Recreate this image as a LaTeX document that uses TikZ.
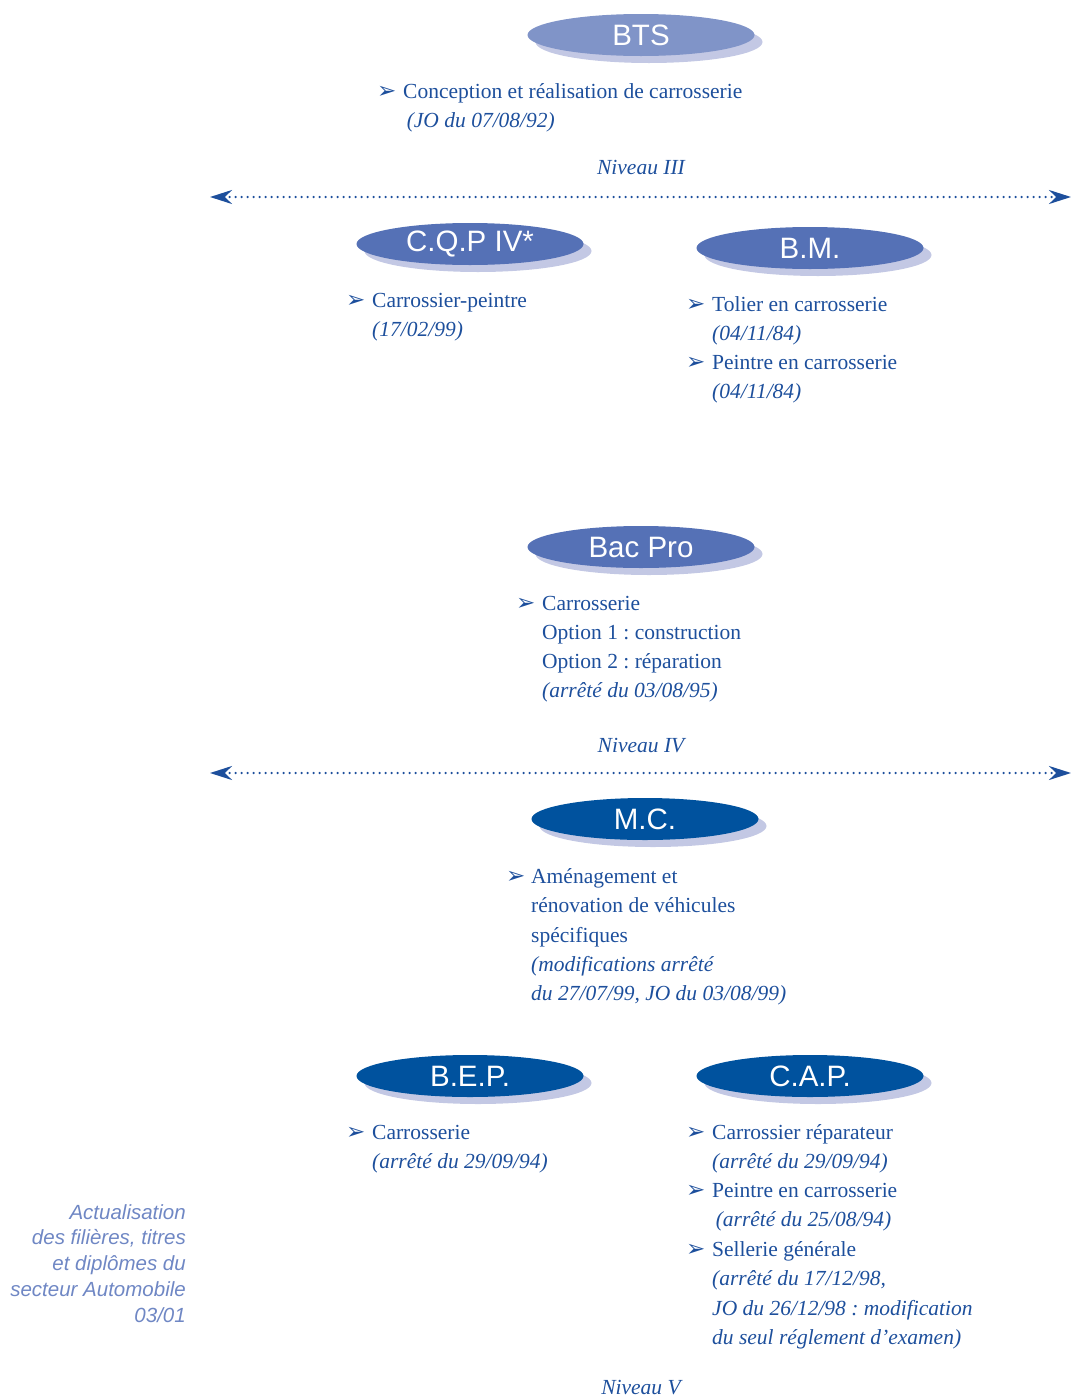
\documentclass[tikz,border=0pt]{standalone}
\usepackage{fontspec}
\setmainfont{Liberation Serif}
\setsansfont{Liberation Sans}
\newfontfamily\symfont{DejaVu Sans}
\usetikzlibrary{shapes.geometric,shadows,arrows.meta}
\definecolor{textblue}{HTML}{1D4F9C}
\definecolor{paleblue}{HTML}{8094C8}
\definecolor{midblue}{HTML}{5571B6}
\definecolor{darkblue}{HTML}{00529E}
\definecolor{shadowblue}{HTML}{C3C8E4}
\definecolor{noteblue}{HTML}{6F87C4}
\frenchspacing
\begin{document}
\begin{tikzpicture}[x=1pt,y=-1pt,
    diplome/.style={ellipse,minimum width=227pt,minimum height=42pt,inner sep=0pt,text=white,
      font=\sffamily\fontsize{29.5}{29.5}\selectfont,
      drop shadow={shadow xshift=8pt,shadow yshift=-7pt,fill=shadowblue,opacity=1}},
    item/.style={anchor=north west,yshift=14.44pt,inner sep=0pt,align=left,text=textblue,
      font=\fontsize{21.5}{29.2}\selectfont,execute at begin node=\strut},
    puce/.style={anchor=base west,inner sep=0pt,text=textblue,font=\symfont\fontsize{23}{23}\selectfont},
    niveau/.style={anchor=base,inner sep=0pt,text=textblue,font=\itshape\fontsize{21.5}{29.2}\selectfont},
    palier/.style={textblue,line width=2.5pt,line cap=round,dash pattern=on 0pt off 6pt,
      {Stealth[length=22pt,width=14pt]}-{Stealth[length=22pt,width=14pt]}}]
    \useasboundingbox (0,0) rectangle (1072,1398);

    \node[diplome,fill=paleblue] (bts) at (641,35) {BTS};
    \node[puce] (p1) at (377,98) {➢};
    \node[item] (t1) at (403,98) {Conception et réalisation de carrosserie\\ \textit{\,(JO du 07/08/92)}};
    \node[niveau] (n3) at (641,174) {Niveau III};
    \coordinate (g3) at (210,197);
    \coordinate (d3) at (1071,197);
    \draw[palier] (g3) -- (d3);

    \node[diplome,fill=midblue] (cqp) at (470,244) {C.Q.P IV*};
    \node[puce] (p2) at (346,307) {➢};
    \node[item] (t2) at (372,307) {Carrossier-peintre\\ \textit{(17/02/99)}};
    \node[diplome,fill=midblue] (bm) at (810,248) {B.M.};
    \node[puce] (p3) at (686,311) {➢};
    \node[item] (t3) at (712,311) {Tolier en carrosserie\\ \textit{(04/11/84)}};
    \node[puce] (p4) at (686,369) {➢};
    \node[item] (t4) at (712,369) {Peintre en carrosserie\\ \textit{(04/11/84)}};

    \node[diplome,fill=midblue] (bac) at (641,547) {Bac Pro};
    \node[puce] (p5) at (516,610) {➢};
    \node[item] (t5) at (542,610) {Carrosserie\\ Option 1 : construction\\ Option 2 : réparation\\ \textit{(arrêté du 03/08/95)}};
    \node[niveau] (n4) at (641,752) {Niveau IV};
    \coordinate (g4) at (210,773);
    \coordinate (d4) at (1071,773);
    \draw[palier] (g4) -- (d4);

    \node[diplome,fill=darkblue] (mc) at (645,819) {M.C.};
    \node[puce] (p6) at (506,883) {➢};
    \node[item] (t6) at (531,883) {Aménagement et\\ rénovation de véhicules\\ spécifiques\\ \textit{(modifications arrêté}\\ \textit{du 27/07/99, JO du 03/08/99)}};

    \node[diplome,fill=darkblue] (bep) at (470,1076) {B.E.P.};
    \node[puce] (p7) at (346,1139) {➢};
    \node[item] (t7) at (372,1139) {Carrosserie\\ \textit{(arrêté du 29/09/94)}};
    \node[diplome,fill=darkblue] (cap) at (810,1076) {C.A.P.};
    \node[puce] (p8) at (686,1139) {➢};
    \node[item] (t8) at (712,1139) {Carrossier réparateur\\ \textit{(arrêté du 29/09/94)}};
    \node[puce] (p9) at (686,1197) {➢};
    \node[item] (t9) at (712,1197) {Peintre en carrosserie\\ \textit{\,(arrêté du 25/08/94)}};
    \node[puce] (p10) at (686,1256) {➢};
    \node[item] (t10) at (712,1256) {Sellerie générale\\ \textit{(arrêté du 17/12/98,}\\ \textit{JO du 26/12/98 : modification}\\ \textit{du seul réglement d'examen)}};

    \node[anchor=north east,yshift=15.06pt,inner sep=0pt,align=right,text=noteblue,
      font=\sffamily\itshape\fontsize{20.5}{25.8}\selectfont,execute at begin node=\strut] (note) at (186,1219)
      {Actualisation\\ des filières, titres\\ et diplômes du\\ secteur Automobile\\ 03/01};
    \node[niveau] (n5) at (641,1394) {Niveau V};
\end{tikzpicture}
\end{document}
